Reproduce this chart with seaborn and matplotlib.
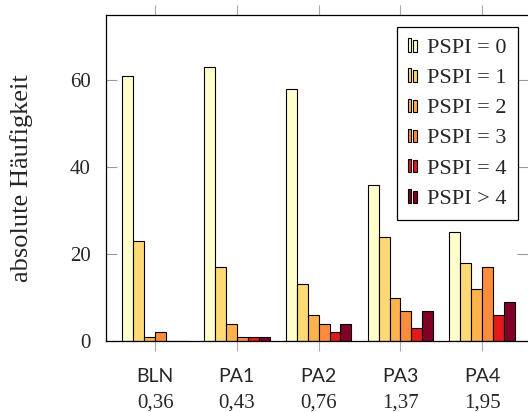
import matplotlib
matplotlib.use("Agg")
import matplotlib.pyplot as plt
import seaborn as sns
import pandas as pd
from matplotlib.legend_handler import HandlerBase
from matplotlib.patches import Rectangle, Patch

categories = ["BLN", "PA1", "PA2", "PA3", "PA4"]
second_row = ["0,36", "0,43", "0,76", "1,37", "1,95"]
series_names = ["PSPI = 0", "PSPI = 1", "PSPI = 2", "PSPI = 3", "PSPI = 4", "PSPI > 4"]
pspi0 = [61, 63, 58, 36, 25]
pspi1 = [23, 17, 13, 24, 18]
pspi2 = [1, 4, 6, 10, 12]
pspi3 = [2, 1, 4, 7, 17]
pspi4 = [0, 1, 2, 3, 6]
pspi5 = [0, 1, 4, 7, 9]
colors = ["#ffffcc", "#fed976", "#feb24c", "#fd8d3c", "#e31a1c", "#800026"]
yticks = [0, 20, 40, 60]

all_vals = [pspi0, pspi1, pspi2, pspi3, pspi4, pspi5]
rows = []
for name, vals in zip(series_names, all_vals):
    for c, v in zip(categories, vals):
        rows.append({"cat": c, "series": name, "val": v})
df = pd.DataFrame(rows)

sns.set_style("ticks")
serif = ["Liberation Serif", "DejaVu Serif"]
sans = ["Lato", "DejaVu Sans"]
plt.rcParams["font.family"] = serif

fig = plt.figure(figsize=(5.28, 4.12), dpi=100)
ax = fig.add_axes([106/528, (412-341)/412, 422/528, 326/412])

sns.barplot(data=df, x="cat", y="val", hue="series", order=categories,
            hue_order=series_names, palette=colors, ax=ax, width=0.8,
            edgecolor="black", linewidth=0.8, saturation=1, legend=False)

ax.set_xlim(-0.6, 4.56)
ax.set_ylim(0, 75)
ax.set_yticks(yticks)
ax.set_yticklabels([str(t) for t in yticks], fontsize=15, family=serif)
ax.set_xticks(range(len(categories)))
ax.set_xticklabels([""] * len(categories))
ax.set_xlabel("")
ax.set_ylabel("absolute Häufigkeit", fontsize=19, family=serif)
ax.yaxis.set_label_coords(-0.172, 0.5)

ax.tick_params(axis="y", direction="in", length=8, width=0.8, color="#999999",
               left=True, right=True, pad=11)
ax.tick_params(axis="x", direction="out", length=7, width=0.8, color="#aaaaaa",
               bottom=True, top=True)
for s in ["left", "bottom", "top"]:
    ax.spines[s].set_color("black")
    ax.spines[s].set_linewidth(0.9)
ax.spines["right"].set_visible(False)

trans = ax.get_xaxis_transform()
for i, (c, n) in enumerate(zip(categories, second_row)):
    ax.text(i, -0.126, c, transform=trans, ha="center", va="baseline",
            fontsize=14, family=sans)
    ax.text(i, -0.203, n, transform=trans, ha="center", va="baseline",
            fontsize=15, family=serif)


class TwoBars(HandlerBase):
    def create_artists(self, legend, orig_handle, xdescent, ydescent,
                       width, height, fontsize, trans):
        w = width * 0.36
        h = height
        fc = orig_handle.get_facecolor()
        r1 = Rectangle((-xdescent, -ydescent), w, h, facecolor=fc,
                       edgecolor="black", linewidth=0.8, transform=trans)
        r2 = Rectangle((-xdescent + width * 0.56, -ydescent), w * 1.1, h * 0.9,
                       facecolor=fc, edgecolor="black", linewidth=0.8,
                       transform=trans)
        return [r1, r2]


handles = [Patch(facecolor=col, label=name) for col, name in zip(colors, series_names)]
leg = ax.legend(handles=handles, loc="upper right", bbox_to_anchor=(0.976, 0.963),
                borderaxespad=0, prop={"family": serif, "size": 16},
                handler_map={Patch: TwoBars()}, handlelength=0.42,
                handleheight=0.55, handletextpad=0.45, labelspacing=0.48,
                borderpad=0.5, fancybox=False, framealpha=1, edgecolor="black")
leg.get_frame().set_linewidth(0.9)

fig.savefig("out.png", dpi=100)
